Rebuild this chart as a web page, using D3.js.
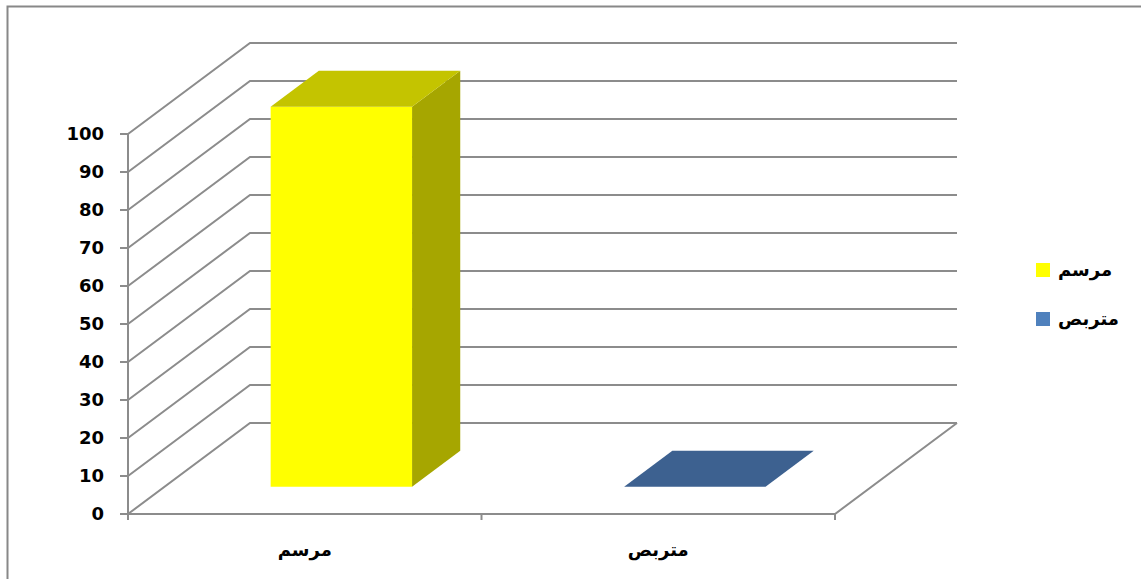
<!DOCTYPE html>
<html>
<head>
<meta charset="utf-8">
<script src="https://cdn.jsdelivr.net/npm/d3@7"></script>
<style>
  body { margin: 0; background: #fff; }
  text { font-family: "DejaVu Sans", Arial, sans-serif; font-weight: bold; }
</style>
</head>
<body>
<div id="chart"></div>
<script>
// data
const categories = ["مرسم", "متربص"];
const values = [100, 0];
const yTicks = [0, 10, 20, 30, 40, 50, 60, 70, 80, 90, 100];
const colors = ["#ffff00", "#3d6190"];
const legendColors = ["#ffff00", "#4f81bd"];

const width = 1141, height = 579;
const svg = d3.select("#chart").append("svg")
  .attr("width", width).attr("height", height);

// frame
svg.append("rect").attr("x", 7.5).attr("y", 6.5)
  .attr("width", width + 10).attr("height", height + 10)
  .attr("fill", "none").attr("stroke", "#888").attr("stroke-width", 2);

// oblique projection for the 3d look
const depthX = 122, depthY = -91;
const x = d3.scaleBand().domain(categories).range([128, 835]).paddingInner(0).paddingOuter(0);
const y = d3.scaleLinear().domain([0, 100]).range([514, 134]);
const proj = (px, py, z) => [px + z * depthX, py + z * depthY];

const grid = svg.append("g").attr("stroke", "#8c8c8c").attr("fill", "none");

// back wall + left wall gridlines
yTicks.forEach(t => {
  const p0 = proj(128, y(t), 0), p1 = proj(128, y(t), 1), p2 = proj(835, y(t), 1);
  grid.append("path").attr("d", d3.line()([p0, p1, p2])).attr("stroke-width", 2);
});
// vertical axis
grid.append("line").attr("x1", 128).attr("x2", 128).attr("y1", y(100)).attr("y2", y(0)).attr("stroke-width", 2);
// ticks
yTicks.forEach(t => {
  grid.append("line").attr("x1", 120).attr("x2", 128).attr("y1", y(t)).attr("y2", y(t)).attr("stroke-width", 2);
});
// floor
const f0 = proj(835, y(0), 0), f1 = proj(835, y(0), 1);
grid.append("path").attr("d", d3.line()([[128, y(0)], f0, f1])).attr("stroke-width", 2);
[128, 835].concat(categories.slice(1).map(c => x(c))).forEach(px => {
  grid.append("line").attr("x1", px).attr("x2", px).attr("y1", y(0)).attr("y2", y(0) + 6).attr("stroke-width", 2);
});

// y labels
svg.append("g").selectAll("text").data(yTicks).join("text")
  .attr("x", 104).attr("y", d => y(d)).attr("dy", "0.36em")
  .attr("text-anchor", "end").attr("font-size", 18).attr("fill", "#000")
  .text(d => d);

// category labels
svg.append("g").selectAll("text").data(categories).join("text")
  .attr("x", d => x(d) + x.bandwidth() / 2).attr("y", 556)
  .attr("text-anchor", "middle").attr("font-size", 18).attr("fill", "#000")
  .text(d => d);

// bars
const z0 = 0.3, z1 = 0.695;
const gap = 0.3 * x.bandwidth();
const bars = svg.append("g");
categories.forEach((c, i) => {
  const xl = x(c) + gap, xr = x(c) + x.bandwidth() - gap;
  const yb = y(0), yt = y(values[i]);
  const col = colors[i];
  if (values[i] > 0) {
    // right side
    bars.append("path").attr("fill", "#a6a600")
      .attr("d", d3.line()([proj(xr, yb, z0), proj(xr, yb, z1), proj(xr, yt, z1), proj(xr, yt, z0)]) + "Z");
    // front
    bars.append("path").attr("fill", col)
      .attr("d", d3.line()([proj(xl, yb, z0), proj(xr, yb, z0), proj(xr, yt, z0), proj(xl, yt, z0)]) + "Z");
    // top
    bars.append("path").attr("fill", "#c4c400")
      .attr("d", d3.line()([proj(xl, yt, z0), proj(xr, yt, z0), proj(xr, yt, z1), proj(xl, yt, z1)]) + "Z");
  } else {
    bars.append("path").attr("fill", col)
      .attr("d", d3.line()([proj(xl, yt, z0), proj(xr, yt, z0), proj(xr, yt, z1), proj(xl, yt, z1)]) + "Z");
  }
});

// legend
const legend = svg.append("g");
categories.forEach((c, i) => {
  const ly = 270 + i * 49;
  legend.append("rect").attr("x", 1036).attr("y", ly - 7).attr("width", 14).attr("height", 14)
    .attr("fill", legendColors[i]);
  legend.append("text").attr("x", 1058).attr("y", ly).attr("dy", "0.35em")
    .attr("text-anchor", "start").attr("font-size", 18).attr("fill", "#000")
    .text(c);
});
</script>
</body>
</html>
